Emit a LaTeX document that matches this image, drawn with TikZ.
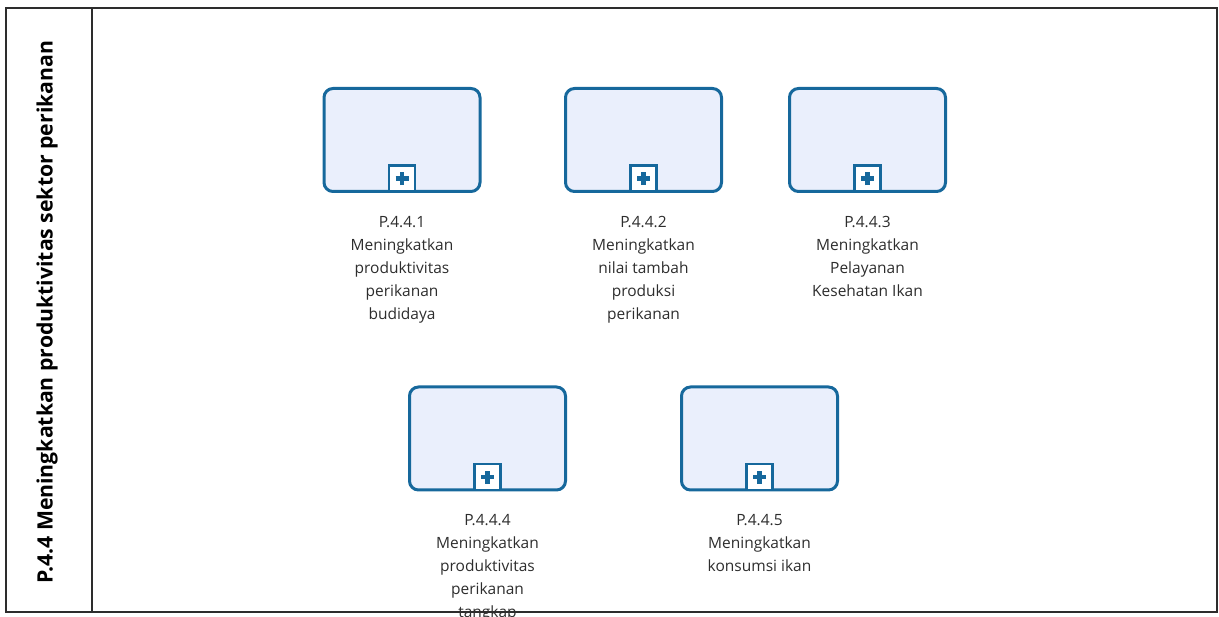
\documentclass[tikz,border=0pt]{standalone}
\usepackage{fontspec}
\setmainfont{Open Sans}
\usetikzlibrary{positioning}
\definecolor{taskblue}{RGB}{22,104,156}
\definecolor{taskfill}{RGB}{234,239,252}
\definecolor{lanegray}{RGB}{45,45,45}
\definecolor{labelgray}{RGB}{45,45,45}
\tikzset{
  task/.style={draw=taskblue, fill=taskfill, line width=3pt, rounded corners=9pt,
    minimum width=156pt, minimum height=103pt, inner sep=0pt},
  plusbox/.style={draw=taskblue, fill=white, line width=2.5pt, minimum size=26pt,
    inner sep=0pt, anchor=south},
  pluscross/.style={draw=taskblue, line width=4.5pt},
  tasklabel/.style={align=center, text=labelgray, inner sep=0pt,
    font=\fontsize{15.5}{23}\selectfont},
}
\begin{document}
\begin{tikzpicture}[x=1pt,y=-1pt]
	\useasboundingbox (0,0) rectangle (1219,617);
	\clip (0,0) rectangle (1219,617);
	% lane frame
	\draw[lanegray, line width=2pt] (6,8) rectangle (1217,612);
	\draw[lanegray, line width=2pt] (92,8)--(92,612);
	\node[rotate=90, font=\bfseries\fontsize{21.2}{25}\selectfont] (lane) at (47,312) {P.4.4 Meningkatkan produktivitas sektor perikanan};
	% sub-processes, top row
	\node[task] (t1) at (402,140) {};
	\node[task] (t2) at (643.5,140) {};
	\node[task] (t3) at (867.5,140) {};
	% sub-processes, bottom row
	\node[task] (t4) at (487.5,438.5) {};
	\node[task] (t5) at (759.5,438.5) {};
	% collapsed markers
	\foreach \t in {t1,t2,t3,t4,t5}{
		\node[plusbox] (\t plus) at (\t.south) {};
		\draw[pluscross] ([xshift=-6.5pt]\t plus.center) -- ([xshift=6.5pt]\t plus.center);
		\draw[pluscross] ([yshift=-6.5pt]\t plus.center) -- ([yshift=6.5pt]\t plus.center);
	}
	% labels
	\node[tasklabel, below=23pt of t1] (l1) {P.4.4.1\\Meningkatkan\\produktivitas\\perikanan\\budidaya};
	\node[tasklabel, below=23pt of t2] (l2) {P.4.4.2\\Meningkatkan\\nilai tambah\\produksi\\perikanan};
	\node[tasklabel, below=23pt of t3] (l3) {P.4.4.3\\Meningkatkan\\Pelayanan\\Kesehatan Ikan};
	\node[tasklabel, below=23pt of t4] (l4) {P.4.4.4\\Meningkatkan\\produktivitas\\perikanan\\tangkap};
	\node[tasklabel, below=23pt of t5] (l5) {P.4.4.5\\Meningkatkan\\konsumsi ikan};
\end{tikzpicture}
\end{document}
